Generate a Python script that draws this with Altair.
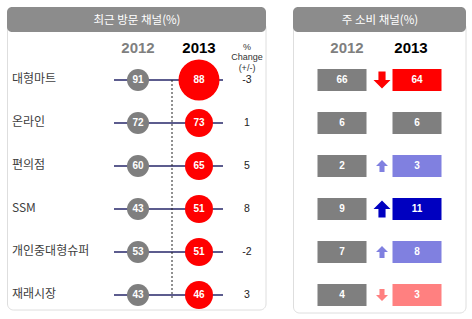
import altair as alt
import pandas as pd

# ---------------- data ----------------
channels = ["대형마트", "온라인", "편의점", "SSM", "개인중대형슈퍼", "재래시장"]
years = ["2012", "2013"]
visit_2012 = [91, 72, 60, 43, 53, 43]
visit_2013 = [88, 73, 65, 51, 51, 46]
main_2012 = [66, 6, 2, 9, 7, 4]
main_2013 = [64, 6, 3, 11, 8, 3]
left_title = "최근 방문 채널(%)"
right_title = "주 소비 채널(%)"
change_header = "%\nChange\n(+/-)"

W, H = 472, 319
KR = "Noto Sans CJK KR"
NUM = "Liberation Sans"

# ---------------- tables ----------------
v12 = pd.DataFrame({"channel": channels, "year": "2012", "value": visit_2012})
v13 = pd.DataFrame({"channel": channels, "year": "2013", "value": visit_2013})

change = pd.DataFrame({
    "channel": channels,
    "change": [str(b - a) for a, b in zip(visit_2012, visit_2013)],
})


def trend(a, b):
    d = b - a
    if d == 0:
        return "same"
    return ("up" if d > 0 else "down") + ("2" if abs(d) >= 2 else "1")


main = pd.DataFrame({
    "channel": channels * 2,
    "year": ["2012"] * len(channels) + ["2013"] * len(channels),
    "value": main_2012 + main_2013,
})
main["trend"] = ["base"] * len(channels) + [trend(a, b) for a, b in zip(main_2012, main_2013)]

arrows = pd.DataFrame({
    "channel": channels,
    "delta": [b - a for a, b in zip(main_2012, main_2013)],
})
arrows["trend"] = [trend(a, b) for a, b in zip(main_2012, main_2013)]
arrows = arrows[arrows["delta"] != 0].copy()
arrows["direction"] = ["up" if d > 0 else "down" for d in arrows["delta"]]
arrows["mag"] = ["big" if abs(d) >= 2 else "small" for d in arrows["delta"]]

year_df = pd.DataFrame({"year": years})
one = pd.DataFrame({"a": [0]})

# ---------------- scales ----------------
yscale = alt.Scale(type="point", domain=channels, range=[80, 295], padding=0)


def Y():
    return alt.Y("channel:N", scale=yscale, axis=None)


def XL():
    return alt.X("year:N", scale=alt.Scale(type="point", domain=years, range=[138, 199], padding=0), axis=None)


def XR():
    return alt.X("year:N", scale=alt.Scale(type="point", domain=years, range=[342, 417], padding=0), axis=None)


trend_dom = ["base", "same", "up1", "up2", "down1", "down2"]
trend_rng = ["#7f7f7f", "#7f7f7f", "#8080e0", "#0000c0", "#ff8080", "#ff0000"]

box_path = "M-1,-0.449L1,-0.449L1,0.449L-1,0.449Z"
up_path = "M0,-1L1,0L0.42,0L0.42,1L-0.42,1L-0.42,0L-1,0Z"
down_path = "M0,1L1,0L0.42,0L0.42,-1L-0.42,-1L-0.42,0L-1,0Z"

# ---------------- frames ----------------
def body(x1, x2, y2):
    return alt.Chart(one).mark_rect(fill="white", stroke="#dedede", strokeWidth=1, cornerRadius=6).encode(
        x=alt.value(x1), x2=alt.value(x2), y=alt.value(22), y2=alt.value(y2))


def header(x1, x2):
    return alt.Chart(one).mark_rect(fill="#8c8c8c", cornerRadius=5).encode(
        x=alt.value(x1), x2=alt.value(x2), y=alt.value(7), y2=alt.value(32))


left_body = body(7.5, 266, 310)
right_body = body(293.5, 466, 313)
left_head = header(7, 266)
right_head = header(293, 466)

left_title_t = alt.Chart(one).mark_text(font=KR, fontSize=11.5, color="white").encode(
    x=alt.value(137), y=alt.value(20.5), text=alt.value(left_title))
right_title_t = alt.Chart(one).mark_text(font=KR, fontSize=11.5, color="white").encode(
    x=alt.value(380), y=alt.value(20.5), text=alt.value(right_title))

year_color = alt.Color("year:N", scale=alt.Scale(domain=years, range=["#7f7f7f", "#000000"]), legend=None)
left_years = alt.Chart(year_df).mark_text(font=NUM, fontSize=15, fontWeight="bold").encode(
    x=XL(), y=alt.value(48), text="year:N", color=year_color)
right_years = alt.Chart(year_df).mark_text(font=NUM, fontSize=15, fontWeight="bold").encode(
    x=alt.X("year:N", scale=alt.Scale(type="point", domain=years, range=[347, 411], padding=0), axis=None),
    y=alt.value(48), text="year:N", color=year_color)

change_head = alt.Chart(one).mark_text(font=NUM, fontSize=9, color="#333333", lineBreak="\n",
                                       baseline="top", lineHeight=10.5).encode(
    x=alt.value(247), y=alt.value(42.5), text=alt.value(change_header))

# ---------------- left panel ----------------
row_rules = alt.Chart(change).mark_rule(color="#5c5c8e", strokeWidth=2).encode(
    x=alt.value(114), x2=alt.value(223), y=Y())

dotted = alt.Chart(one).mark_rule(color="#222222", strokeWidth=1, strokeDash=[2, 2]).encode(
    x=alt.value(172), y=alt.value(80), y2=alt.value(300))

circles12 = alt.Chart(v12).mark_circle(opacity=1, color="#7f7f7f", size=484).encode(
    x=XL(), y=Y())
circles13 = alt.Chart(v13).mark_circle(opacity=1, color="#ff0000").encode(
    x=XL(), y=Y(),
    size=alt.Size("value:Q", scale=alt.Scale(type="threshold", domain=[80], range=[784, 1681]), legend=None),
)
circle_text12 = alt.Chart(v12).mark_text(font=NUM, fontSize=10, fontWeight="bold", color="white").encode(
    x=XL(), y=Y(), text="value:Q")
circle_text13 = alt.Chart(v13).mark_text(font=NUM, fontSize=10, fontWeight="bold", color="white").encode(
    x=XL(), y=Y(), text="value:Q")

labels = alt.Chart(change).mark_text(font=KR, fontSize=12, color="#404040", align="left", dy=-1).encode(
    x=alt.value(12), y=Y(), text="channel:N")

change_text = alt.Chart(change).mark_text(font=NUM, fontSize=10.5, color="#222222").encode(
    x=alt.value(247), y=Y(), text="change:N")

# ---------------- right panel ----------------
boxes = alt.Chart(main).mark_point(shape=box_path, filled=True, size=2401, opacity=1, strokeWidth=0).encode(
    x=XR(), y=Y(),
    color=alt.Color("trend:N", scale=alt.Scale(domain=trend_dom, range=trend_rng), legend=None),
)
box_text = alt.Chart(main).mark_text(font=NUM, fontSize=10, fontWeight="bold", color="white").encode(
    x=XR(), y=Y(), text="value:Q")

arrow_marks = alt.Chart(arrows).mark_point(filled=True, opacity=1, strokeWidth=0).encode(
    x=alt.value(382), y=Y(),
    shape=alt.Shape("direction:N", scale=alt.Scale(domain=["up", "down"], range=[up_path, down_path]), legend=None),
    size=alt.Size("mag:N", scale=alt.Scale(type="ordinal", domain=["small", "big"], range=[144, 289]), legend=None),
    color=alt.Color("trend:N", scale=alt.Scale(domain=trend_dom, range=trend_rng), legend=None),
)

chart = alt.layer(
    left_body, right_body, left_head, right_head, left_title_t, right_title_t,
    left_years, right_years, change_head,
    row_rules, dotted, circles12, circles13, circle_text12, circle_text13, labels, change_text,
    boxes, box_text, arrow_marks,
).resolve_scale(
    x="independent", color="independent", size="independent", shape="independent"
).properties(
    width=W, height=H, padding=0, autosize="none", background="white"
).configure_view(strokeWidth=0)

chart.save("out.html", embed_options={"renderer": "svg", "actions": False})
